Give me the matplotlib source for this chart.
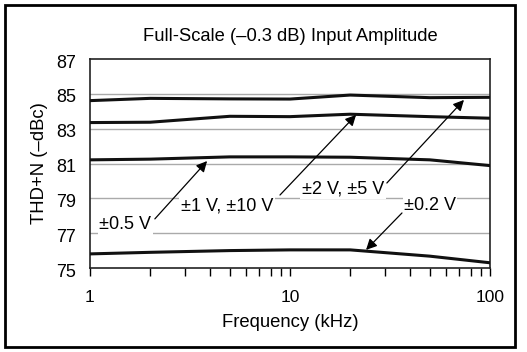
import matplotlib
matplotlib.use("Agg")
import matplotlib.pyplot as plt
from matplotlib.patches import Rectangle
from matplotlib.transforms import ScaledTranslation

plt.rcParams['font.family'] = ['Liberation Sans', 'DejaVu Sans']

freq_khz = [1, 2, 5, 10, 20, 50, 100]
thd_2v_5v = [84.61, 84.74, 84.71, 84.70, 84.93, 84.78, 84.80]
thd_1v_10v = [83.35, 83.37, 83.71, 83.69, 83.83, 83.69, 83.60]
thd_0p5v = [81.21, 81.25, 81.38, 81.38, 81.36, 81.21, 80.88]
thd_0p2v = [75.81, 75.90, 76.00, 76.04, 76.04, 75.68, 75.30]

y_ticks = [75, 77, 79, 81, 83, 85, 87]
x_ticks = [1, 10, 100]
x_tick_labels = ["1", "10", "100"]

fig = plt.figure(figsize=(5.27, 3.52), dpi=100)
ax = fig.add_axes([90/527, 1-268/352, 400/527, 209/352])

for yv in [77, 79, 81, 83, 85]:
    ax.axhline(yv, color='#aaaaaa', lw=1.0, zorder=1)

for s in [thd_2v_5v, thd_1v_10v, thd_0p5v, thd_0p2v]:
    ax.plot(freq_khz, s, color='#111111', lw=2.2, zorder=3, solid_joinstyle='round')

ax.set_xscale('log')
ax.set_xlim(1, 100)
ax.set_ylim(75, 87)
ax.set_yticks(y_ticks)
ax.set_xticks(x_ticks)
ax.set_xticklabels(x_tick_labels)
ax.tick_params(axis='y', length=0, labelsize=13, pad=10)
offset = ScaledTranslation(0, -2/100, fig.dpi_scale_trans)
for lbl in ax.get_yticklabels():
    lbl.set_transform(lbl.get_transform() + offset)
ax.tick_params(axis='x', which='major', length=6, width=1, labelsize=12.5, pad=10)
ax.tick_params(axis='x', which='minor', length=6, width=1)
for sp in ax.spines.values():
    sp.set_color('#222222')
    sp.set_linewidth(1.2)

ax.set_title("Full-Scale (\u20130.3 dB) Input Amplitude", fontsize=13.2, pad=13)
ax.set_xlabel("Frequency (kHz)", fontsize=13.3, labelpad=6)
ax.set_ylabel("THD+N (\u2013dBc)", fontsize=13.3, labelpad=6)

ann = [
    ("\u00b10.5 V", (1.50, 77.47), (2.11, 77.82), (3.85, 81.14)),
    ("\u00b11 V, \u00b110 V", (4.84, 78.56), (8.91, 79.19), (21.4, 83.79)),
    ("\u00b12 V, \u00b15 V", (18.4, 79.54), (30.5, 79.88), (74.1, 84.65)),
    ("\u00b10.2 V", (50.1, 78.56), (36.3, 78.16), (24.0, 76.04)),
]
for label, tpos, tail, head in ann:
    ax.text(tpos[0], tpos[1], label, ha='center', va='center', fontsize=13, zorder=5,
            bbox=dict(facecolor='white', edgecolor='none', pad=1))
    ax.annotate("", xy=head, xytext=tail, zorder=4,
                arrowprops=dict(arrowstyle='-|>', color='black', lw=0.9,
                                mutation_scale=16, shrinkA=0, shrinkB=0))

fig.patches.append(Rectangle((5/527, 5/352), 510/527, 342/352, transform=fig.transFigure,
                             fill=False, edgecolor='black', lw=2))

fig.savefig("out.png", dpi=100)
